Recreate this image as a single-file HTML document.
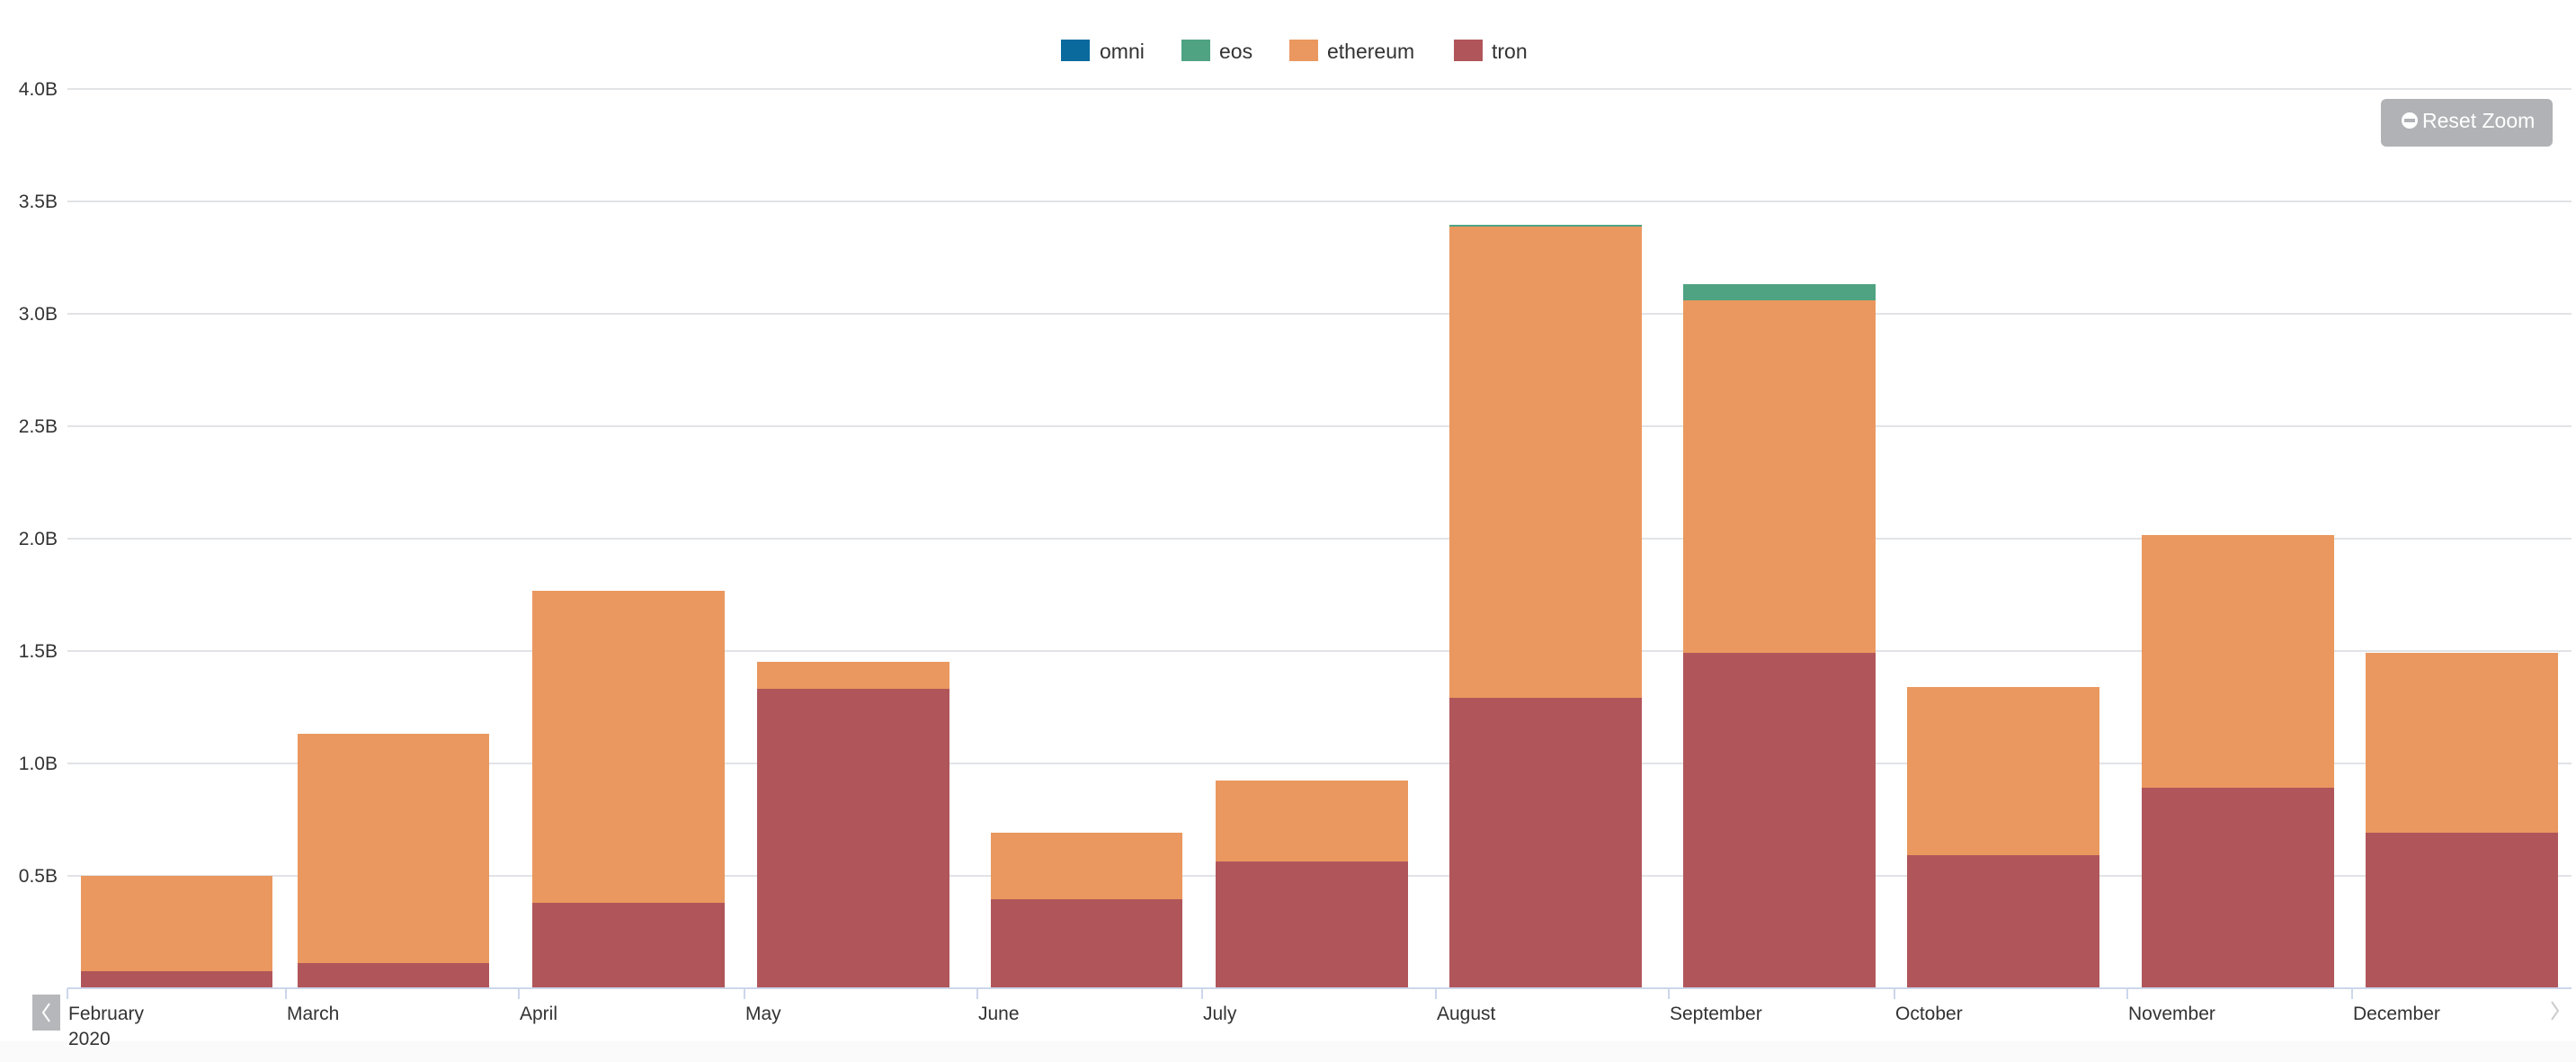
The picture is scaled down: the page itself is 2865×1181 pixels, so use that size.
<!DOCTYPE html>
<html><head><meta charset="utf-8"><style>
html,body{margin:0;padding:0;background:#fff;}
svg{display:block;font-family:"Liberation Sans",sans-serif;}
</style></head><body>
<svg width="2865" height="1181" viewBox="0 0 2865 1181" xmlns="http://www.w3.org/2000/svg">
<rect x="0" y="1158" width="2865" height="23" fill="#fafafa"/>
<g stroke="#e1e3e6" stroke-width="2">
<line x1="75" x2="2860" y1="99" y2="99"/>
<line x1="75" x2="2860" y1="224" y2="224"/>
<line x1="75" x2="2860" y1="349" y2="349"/>
<line x1="75" x2="2860" y1="474" y2="474"/>
<line x1="75" x2="2860" y1="599" y2="599"/>
<line x1="75" x2="2860" y1="724" y2="724"/>
<line x1="75" x2="2860" y1="849" y2="849"/>
<line x1="75" x2="2860" y1="974" y2="974"/>
</g>
<g font-size="21" fill="#333" text-anchor="end">
<text x="64" y="106">4.0B</text>
<text x="64" y="231">3.5B</text>
<text x="64" y="356">3.0B</text>
<text x="64" y="481">2.5B</text>
<text x="64" y="606">2.0B</text>
<text x="64" y="731">1.5B</text>
<text x="64" y="856">1.0B</text>
<text x="64" y="981">0.5B</text>
</g>
<!-- bars: ethereum then tron -->
<g fill="#ea985f">
<rect x="90" y="974" width="213" height="125"/>
<rect x="331" y="816" width="213" height="283"/>
<rect x="592" y="657" width="214" height="442"/>
<rect x="842" y="736" width="214" height="363"/>
<rect x="1102" y="926" width="213" height="173"/>
<rect x="1352" y="868" width="214" height="231"/>
<rect x="1612" y="252" width="214" height="847"/>
<rect x="1872" y="334" width="214" height="765"/>
<rect x="2121" y="764" width="214" height="335"/>
<rect x="2382" y="595" width="214" height="504"/>
<rect x="2631" y="726" width="214" height="373"/>
</g>
<g fill="#4fa382">
<rect x="1612" y="250" width="214" height="2"/>
<rect x="1872" y="316" width="214" height="18"/>
</g>
<g fill="#b0565a">
<rect x="90" y="1080" width="213" height="19"/>
<rect x="331" y="1071" width="213" height="28"/>
<rect x="592" y="1004" width="214" height="95"/>
<rect x="842" y="766" width="214" height="333"/>
<rect x="1102" y="1000" width="213" height="99"/>
<rect x="1352" y="958" width="214" height="141"/>
<rect x="1612" y="776" width="214" height="323"/>
<rect x="1872" y="726" width="214" height="373"/>
<rect x="2121" y="951" width="214" height="148"/>
<rect x="2382" y="876" width="214" height="223"/>
<rect x="2631" y="926" width="214" height="173"/>
</g>
<line x1="75" x2="2860" y1="1099" y2="1099" stroke="#ccd6eb" stroke-width="2"/>
<g stroke="#ccd6eb" stroke-width="2">
<line x1="75" x2="75" y1="1099" y2="1111"/>
<line x1="318" x2="318" y1="1099" y2="1111"/>
<line x1="577" x2="577" y1="1099" y2="1111"/>
<line x1="828" x2="828" y1="1099" y2="1111"/>
<line x1="1087" x2="1087" y1="1099" y2="1111"/>
<line x1="1337" x2="1337" y1="1099" y2="1111"/>
<line x1="1597" x2="1597" y1="1099" y2="1111"/>
<line x1="1856" x2="1856" y1="1099" y2="1111"/>
<line x1="2107" x2="2107" y1="1099" y2="1111"/>
<line x1="2366" x2="2366" y1="1099" y2="1111"/>
<line x1="2616" x2="2616" y1="1099" y2="1111"/>
</g>
<g font-size="21" fill="#333">
<text x="76" y="1134">February</text>
<text x="76" y="1162">2020</text>
<text x="319" y="1134">March</text>
<text x="578" y="1134">April</text>
<text x="829" y="1134">May</text>
<text x="1088" y="1134">June</text>
<text x="1338" y="1134">July</text>
<text x="1598" y="1134">August</text>
<text x="1857" y="1134">September</text>
<text x="2108" y="1134">October</text>
<text x="2367" y="1134">November</text>
<text x="2617" y="1134">December</text>
</g>
<rect x="36" y="1106" width="31" height="40" fill="#b5b7ba"/>
<polyline points="55,1116 48,1126 55,1136" fill="none" stroke="#fff" stroke-width="2"/>
<polyline points="2838,1114 2845,1124 2838,1134" fill="none" stroke="#ccc" stroke-width="2"/>
<!-- legend -->
<g font-size="23" fill="#333">
<rect x="1180" y="44" width="32" height="24" fill="#0a6a9e"/>
<text x="1223" y="65">omni</text>
<rect x="1314" y="44" width="32" height="24" fill="#4fa382"/>
<text x="1356" y="65">eos</text>
<rect x="1434" y="44" width="32" height="24" fill="#ea985f"/>
<text x="1476" y="65">ethereum</text>
<rect x="1617" y="44" width="32" height="24" fill="#b0565a"/>
<text x="1659" y="65">tron</text>
</g>
<!-- reset zoom -->
<rect x="2648" y="110" width="191" height="53" rx="6" fill="#b0b2b5"/>
<circle cx="2680" cy="134" r="9" fill="#fff"/>
<rect x="2674" y="132" width="12" height="4" fill="#b0b2b5"/>
<text x="2694" y="142" font-size="23" fill="#fff">Reset Zoom</text>
</svg>
</body></html>
